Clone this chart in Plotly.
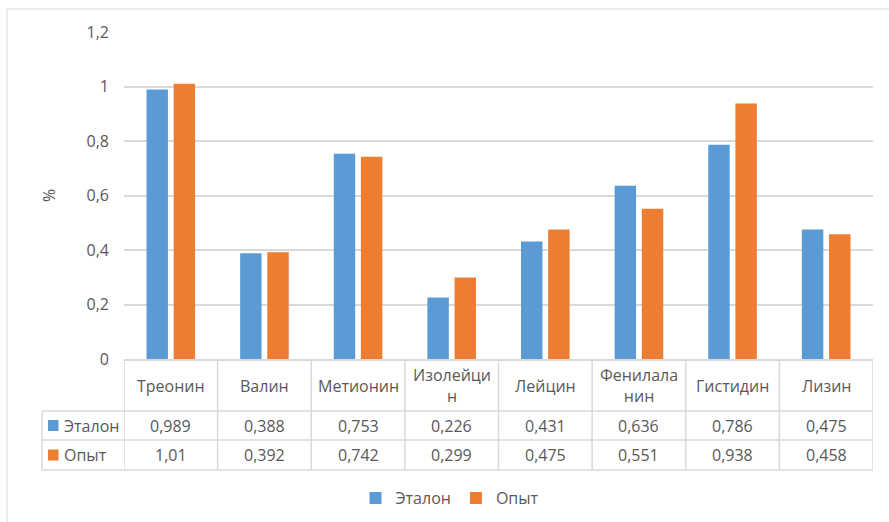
import plotly.graph_objects as go

categories = ["Треонин", "Валин", "Метионин", "Изолейцин", "Лейцин", "Фенилаланин", "Гистидин", "Лизин"]
header_labels = ["Треонин", "Валин", "Метионин", "Изолейци<br>н", "Лейцин", "Фенилала<br>нин", "Гистидин", "Лизин"]
etalon = [0.989, 0.388, 0.753, 0.226, 0.431, 0.636, 0.786, 0.475]
opyt = [1.01, 0.392, 0.742, 0.299, 0.475, 0.551, 0.938, 0.458]
series_names = ["Эталон", "Опыт"]
y_ticks = [0, 0.2, 0.4, 0.6, 0.8, 1.0, 1.2]

BLUE = "#5B9BD5"
ORANGE = "#ED7D31"
GRID = "#D9D9D9"
TXT = "#595959"
FONT = "Open Sans"

W, H = 889, 522
L, R, T, B = 124, 16, 32, 163
plot_h = H - T - B
plot_w = W - L - R


def py(p):
    return (H - B - p) / plot_h


def px(p):
    return (p - L) / plot_w


fig = go.Figure()
fig.add_trace(go.Bar(x=categories, y=etalon, name=series_names[0], marker=dict(color=BLUE, line=dict(width=0))))
fig.add_trace(go.Bar(x=categories, y=opyt, name=series_names[1], marker=dict(color=ORANGE, line=dict(width=0))))

fmt = lambda v: ("%g" % v).replace(".", ",")

annotations = []
shapes = []
# header row: category names
for c, lab in zip(categories, header_labels):
    annotations.append(dict(x=c, xref="x", y=py(385.5), yref="paper", text=lab, showarrow=False,
                            font=dict(family=FONT, size=16, color=TXT), xanchor="center", yanchor="middle"))
# data rows
rows = [(etalon, BLUE, series_names[0], 425.5), (opyt, ORANGE, series_names[1], 455)]
for vals, col, name, yc in rows:
    for c, v in zip(categories, vals):
        annotations.append(dict(x=c, xref="x", y=py(yc), yref="paper", text=fmt(v), showarrow=False,
                                font=dict(family=FONT, size=16, color=TXT), xanchor="center", yanchor="middle"))
    annotations.append(dict(x=px(62), xref="paper", y=py(yc), yref="paper", text=name, showarrow=False,
                            font=dict(family=FONT, size=16, color=TXT), xanchor="left", yanchor="middle"))
    shapes.append(dict(type="rect", xref="paper", yref="paper", x0=px(48), x1=px(58.5),
                       y0=py(yc - 5.5), y1=py(yc + 5.5), fillcolor=col, line=dict(width=0)))

# table grid lines
n = len(categories)
for i in range(n + 1):
    shapes.append(dict(type="line", xref="x", yref="paper", x0=i - 0.5, x1=i - 0.5, y0=0, y1=py(470),
                       line=dict(color=GRID, width=1.5)))
for yy in (411, 440, 470):
    shapes.append(dict(type="line", xref="paper", yref="paper", x0=px(42), x1=1, y0=py(yy), y1=py(yy),
                       line=dict(color=GRID, width=1.5)))
shapes.append(dict(type="line", xref="paper", yref="paper", x0=px(42), x1=px(42), y0=py(411), y1=py(470),
                   line=dict(color=GRID, width=1.5)))
# chart area border
shapes.append(dict(type="rect", xref="paper", yref="paper", x0=px(7), x1=px(900), y0=py(9), y1=py(540),
                   line=dict(color=GRID, width=1), fillcolor="rgba(0,0,0,0)", layer="below"))

fig.update_layout(
    width=W, height=H,
    margin=dict(l=L, r=R, t=T, b=B, autoexpand=False),
    paper_bgcolor="white", plot_bgcolor="white",
    separators=", ",
    barmode="group", bargap=0.42, bargroupgap=0.21,
    font=dict(family=FONT, size=16, color=TXT),
    xaxis=dict(type="category", range=[-0.5, n - 0.5], showticklabels=False, showline=True,
               linecolor=GRID, linewidth=1.5, showgrid=False, ticks=""),
    yaxis=dict(range=[0, 1.2], tickvals=y_ticks, showgrid=True, gridcolor=GRID, gridwidth=1.5,
               zeroline=False, showline=False, ticks="", ticklabelstandoff=14,
               tickfont=dict(family=FONT, size=16, color=TXT),
               title=dict(text="%", standoff=26, font=dict(family=FONT, size=16, color=TXT))),
    showlegend=True,
    legend=dict(orientation="h", x=px(450), xanchor="center", y=py(498), yanchor="middle",
                font=dict(family=FONT, size=16, color=TXT), itemwidth=30, bgcolor="rgba(0,0,0,0)"),
    annotations=annotations, shapes=shapes,
)

fig.write_html("out.html")
